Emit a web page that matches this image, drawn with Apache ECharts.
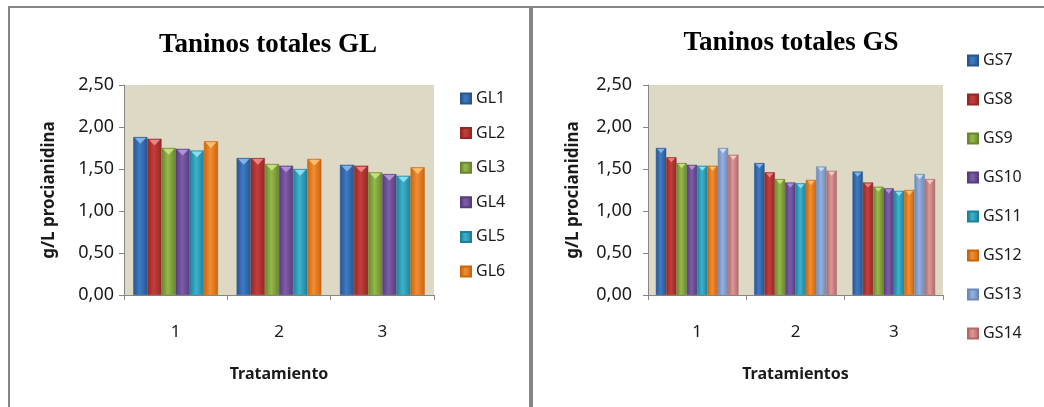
<!DOCTYPE html>
<html>
<head>
<meta charset="utf-8">
<script src="https://cdn.jsdelivr.net/npm/echarts@6/dist/echarts.min.js"></script>
<style>
html,body{margin:0;padding:0;background:#fff;}
#c{width:1044px;height:407px;}
</style>
</head>
<body>
<div id="c"></div>
<script>
// ---- data ----
const categories = ['1', '2', '3'];
const glNames = ['GL1', 'GL2', 'GL3', 'GL4', 'GL5', 'GL6'];
const GL1 = [1.88, 1.63, 1.55];
const GL2 = [1.86, 1.63, 1.54];
const GL3 = [1.75, 1.56, 1.46];
const GL4 = [1.74, 1.54, 1.44];
const GL5 = [1.72, 1.50, 1.42];
const GL6 = [1.83, 1.62, 1.52];
const gsNames = ['GS7', 'GS8', 'GS9', 'GS10', 'GS11', 'GS12', 'GS13', 'GS14'];
const GS7 = [1.75, 1.57, 1.47];
const GS8 = [1.64, 1.46, 1.34];
const GS9 = [1.57, 1.38, 1.29];
const GS10 = [1.55, 1.34, 1.27];
const GS11 = [1.54, 1.33, 1.24];
const GS12 = [1.54, 1.37, 1.25];
const GS13 = [1.75, 1.53, 1.44];
const GS14 = [1.67, 1.48, 1.38];
const yTicks = [0, 0.5, 1, 1.5, 2, 2.5];
const titleGL = 'Taninos totales GL';
const titleGS = 'Taninos totales GS';
const yName = 'g/L procianidina';
const xNameGL = 'Tratamiento';
const xNameGS = 'Tratamientos';

const glData = [GL1, GL2, GL3, GL4, GL5, GL6];
const gsData = [GS7, GS8, GS9, GS10, GS11, GS12, GS13, GS14];

// edge (dark) / center (light) / bevel highlight colours
const palette = [
  ['#28558e', '#3d7bc6', '#8ab8ef'],
  ['#922826', '#c43e3b', '#f08c8a'],
  ['#6a862c', '#95b84a', '#cbe386'],
  ['#573c7c', '#7d5daa', '#b899de'],
  ['#1f8199', '#3bb2ce', '#92e3f5'],
  ['#c7650f', '#f48d30', '#ffc477'],
  ['#6a88b8', '#95b0dc', '#d0e0f7'],
  ['#b06867', '#dc9896', '#f6cdcc']
];
function grad(i) {
  const p = palette[i];
  return new echarts.graphic.LinearGradient(0, 0, 1, 0, [
    { offset: 0, color: p[0] },
    { offset: 0.45, color: p[1] },
    { offset: 1, color: p[0] }
  ]);
}

const fontSans = 'Noto Sans';
const axisGray = '#868686';
const txt = '#1a1a1a';

function makeAxes(gi, xName, labelMarginY) {
  return {
    x: {
      type: 'category', gridIndex: gi, data: categories,
      axisLine: { lineStyle: { color: axisGray, width: 1 } },
      axisTick: { show: true, length: 5, lineStyle: { color: axisGray } },
      axisLabel: { margin: 29, color: txt, fontFamily: fontSans, fontSize: 17 },
      name: xName, nameLocation: 'middle', nameGap: 71,
      nameTextStyle: { color: txt, fontFamily: fontSans, fontSize: 16, fontWeight: 'bold' }
    },
    y: {
      type: 'value', gridIndex: gi, min: 0, max: 2.5, interval: 0.5,
      axisLine: { show: true, lineStyle: { color: axisGray, width: 1 } },
      axisTick: { show: true, length: 5, lineStyle: { color: axisGray } },
      splitLine: { show: false },
      axisLabel: {
        margin: labelMarginY, color: txt, fontFamily: fontSans, fontSize: 18,
        formatter: v => yTicks.includes(v) ? v.toFixed(2).replace('.', ',') : ''
      },
      name: yName, nameLocation: 'middle', nameGap: 66, nameRotate: 90,
      nameTextStyle: { color: txt, fontFamily: fontSans, fontSize: 17, fontWeight: 'bold' }
    }
  };
}
const a0 = makeAxes(0, xNameGL, 10);
const a1 = makeAxes(1, xNameGS, 16);

// bevel triangles on top of the bars, positioned from the library's scales
function bevelSeries(data, gi, gapRatio) {
  const n = data.length;
  const rows = [];
  data.forEach((d, s) => d.forEach((v, c) => rows.push([c, v, s])));
  return {
    type: 'custom', xAxisIndex: gi, yAxisIndex: gi, silent: true, z: 3,
    data: rows,
    renderItem: function (params, api) {
      const c = api.value(0), v = api.value(1), s = api.value(2);
      const top = api.coord([c, v]);
      const band = api.size([1, 0])[0];
      const groupW = band * (1 - gapRatio);
      const bw = groupW / n;
      const x0 = top[0] - groupW / 2 + s * bw;
      const x1 = x0 + bw;
      const y0 = top[1];
      const h = Math.min(6, bw * 0.4);
      return {
        type: 'polygon',
        shape: { points: [[x0 + 1.5, y0 + 1], [x1 - 1.5, y0 + 1], [(x0 + x1) / 2, y0 + 1 + h]] },
        style: { fill: palette[s][2], opacity: 0.9 }
      };
    }
  };
}

const series = [];
glData.forEach((d, i) => {
  series.push({
    name: glNames[i], type: 'bar', xAxisIndex: 0, yAxisIndex: 0, data: d,
    barGap: '0%', barCategoryGap: '18%',
    itemStyle: { color: grad(i), borderColor: palette[i][0], borderWidth: 0.5 },
    emphasis: { disabled: true }
  });
});
gsData.forEach((d, i) => {
  series.push({
    name: gsNames[i], type: 'bar', xAxisIndex: 1, yAxisIndex: 1, data: d,
    barGap: '0%', barCategoryGap: '16%',
    itemStyle: { color: grad(i), borderColor: palette[i][0], borderWidth: 0.5 },
    emphasis: { disabled: true }
  });
});
series.push(bevelSeries(glData, 0, 0.18));
series.push(bevelSeries(gsData, 1, 0.16));

const chart = echarts.init(document.getElementById('c'), null, { renderer: 'canvas' });
chart.setOption({
  animation: false,
  backgroundColor: '#ffffff',
  grid: [
    { left: 124, top: 85, width: 310, height: 210, show: true, backgroundColor: '#ddd9c4', borderWidth: 0 },
    { left: 648, top: 85, width: 295, height: 210, show: true, backgroundColor: '#ddd9c4', borderWidth: 0 }
  ],
  xAxis: [a0.x, a1.x],
  yAxis: [a0.y, a1.y],
  legend: [
    {
      data: glNames, orient: 'vertical', left: 455, top: 85,
      itemWidth: 10, itemHeight: 10, itemGap: 17.6, icon: 'rect',
      textStyle: { color: txt, fontFamily: fontSans, fontSize: 16, lineHeight: 17 }
    },
    {
      data: gsNames, orient: 'vertical', left: 962, top: 47,
      itemWidth: 10, itemHeight: 10, itemGap: 22, icon: 'rect',
      textStyle: { color: txt, fontFamily: fontSans, fontSize: 16, lineHeight: 17 }
    }
  ],
  graphic: [
    { type: 'rect', shape: { x: 8, y: 6, width: 1036, height: 2 }, style: { fill: axisGray }, silent: true },
    { type: 'rect', shape: { x: 8, y: 6, width: 2, height: 401 }, style: { fill: axisGray }, silent: true },
    { type: 'rect', shape: { x: 529, y: 6, width: 4, height: 401 }, style: { fill: axisGray }, silent: true },
    { type: 'text', x: 268, y: 45, silent: true,
      style: { text: titleGL, fill: '#000', font: 'bold 27px "Liberation Serif"', align: 'center', verticalAlign: 'middle' } },
    { type: 'text', x: 791, y: 43, silent: true,
      style: { text: titleGS, fill: '#000', font: 'bold 27px "Liberation Serif"', align: 'center', verticalAlign: 'middle' } }
  ],
  series: series
});
</script>
</body>
</html>
